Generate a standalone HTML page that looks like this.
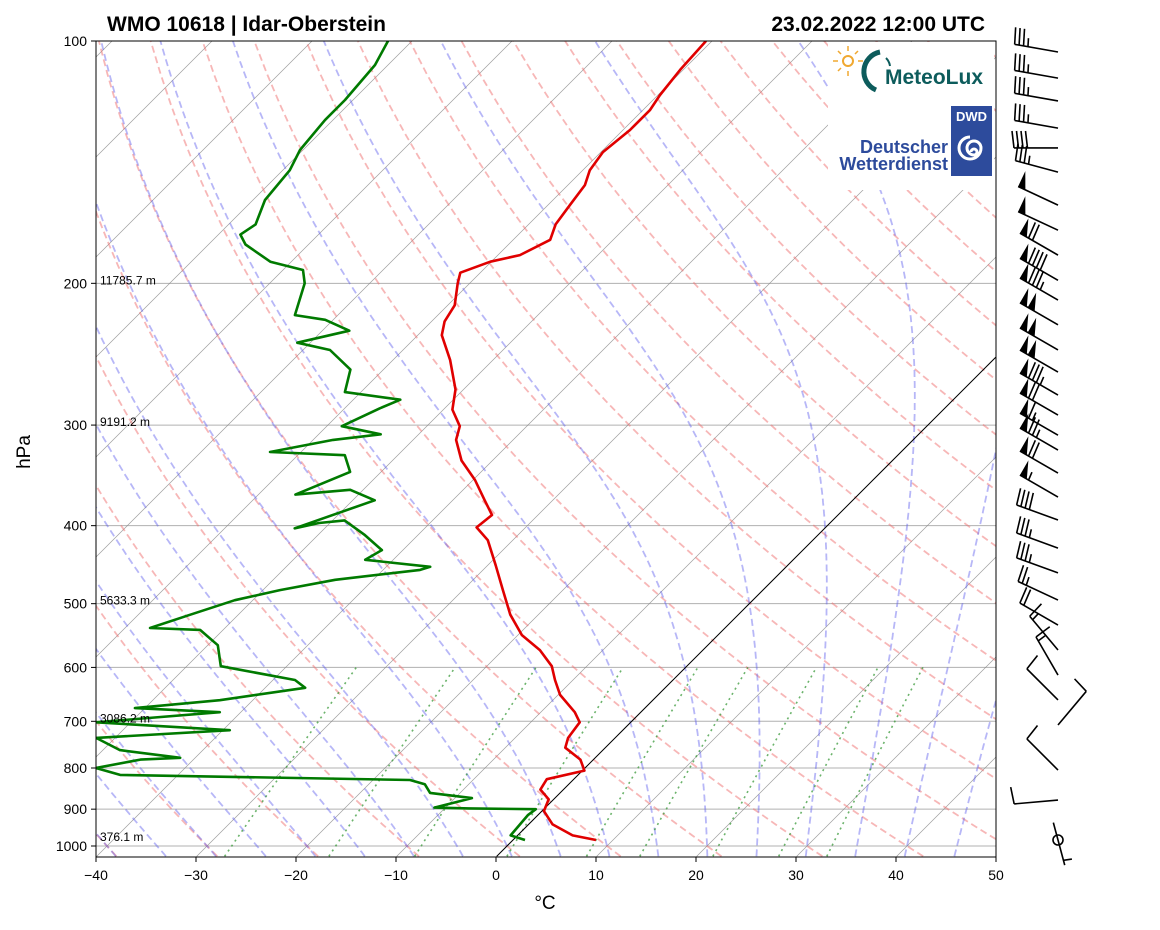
<!DOCTYPE html>
<html><head><meta charset="utf-8"><style>
body{margin:0;background:#fff;}
svg text{font-family:"Liberation Sans","DejaVu Sans",sans-serif;}
</style></head><body>
<svg id="chart" width="1160" height="925" viewBox="0 0 1160 925" xmlns="http://www.w3.org/2000/svg">
<defs><clipPath id="plotclip"><rect x="96" y="41" width="900" height="816"/></clipPath></defs>
<rect x="0" y="0" width="1160" height="925" fill="#fff"/>
<g id="bg" clip-path="url(#plotclip)"></g>
<g id="profiles" clip-path="url(#plotclip)"></g>
<g id="logos">
 <rect x="828" y="42" width="166" height="148" fill="#fff"/>
 <g>
  <circle cx="848" cy="61" r="5" fill="none" stroke="#f0a830" stroke-width="2"/>
  <path d="M848 51v-5M848 71v5M838 61h-5M858 61h5M841 54l-3-3M855 54l3-3M841 68l-3 3" stroke="#f0a830" stroke-width="1.5"/>
  <path d="M876 90 A20 20 0 0 1 880 52" fill="none" stroke="#0d5c5c" stroke-width="5"/>
  <path d="M886 58 A14 14 0 0 1 890 66" fill="none" stroke="#0d5c5c" stroke-width="2"/>
  <text x="885" y="84" font-size="21" font-weight="bold" fill="#0d5c5c">MeteoLux</text>
 </g>
 <g>
  <rect x="951" y="106" width="41" height="70" fill="#2d4b9c"/>
  <text x="971.5" y="121" font-size="13" font-weight="bold" fill="#fff" text-anchor="middle">DWD</text>
  <path d="M971 152 a3 3 0 1 1 3 3 a7 7 0 1 1 7 -7 a11 11 0 1 1 -11 -11" fill="none" stroke="#fff" stroke-width="3"/>
  <text x="948" y="153" font-size="18" font-weight="bold" fill="#2d4b9c" text-anchor="end">Deutscher</text>
  <text x="948" y="170" font-size="18" font-weight="bold" fill="#2d4b9c" text-anchor="end">Wetterdienst</text>
 </g>
</g>
<g id="axes"></g>
<g id="barbs"></g>
<text x="107" y="31" font-size="21" font-weight="bold">WMO 10618 | Idar-Oberstein</text>
<text x="985" y="31" font-size="21" font-weight="bold" text-anchor="end">23.02.2022 12:00 UTC</text>
<text x="545" y="909" font-size="19" text-anchor="middle">°C</text>
<text x="30" y="452" font-size="19" text-anchor="middle" transform="rotate(-90 30 452)">hPa</text>
</svg>
<script>
const tempP=[983,970,940,905,875,851,826,806,781,755,734,702,682,649,622,598,571,547,516,481,448,417,402,388,372,351,332,313,301,287,271,249,232,223,213,200,194,188,184.5,176.6,169,160,151,144.7,137.4,129,121.8,116.7,108.6,100];
const tempT=[8.3,5.5,2.4,0.2,-0.5,-2.3,-2.7,0.2,-1.3,-4,-4.7,-5.1,-6.6,-9.8,-11.8,-13.5,-16.3,-19.6,-22.8,-26,-29.2,-32.5,-34.9,-34.6,-36.8,-39.8,-43.1,-45.7,-46.7,-49.1,-50.8,-54.3,-57.6,-58.7,-59.3,-61.2,-62,-60.1,-57.8,-56.3,-57.3,-57.8,-58.3,-59.3,-59.8,-59.3,-59.3,-59.8,-60.3,-60.6];
const dewP=[983,970,915,900,898,896,872,859,838,828,816,800,781,777,760,734,718,702,682,674,659,636,622,598,563,539,536,516,495,481,467,454,450,441,429,411,394,397,403,372,361,366,343,327,324,313,308,301,286,279,273,256,242,237,229,222,219,200,192.5,188,179,174,169,157.6,144.7,136.6,125.3,118.4,107.1,100];
const dewT=[1.2,-0.7,-1,-0.8,-7.6,-11.1,-8.3,-13,-14.4,-16.3,-45.8,-48.9,-45.3,-41.5,-48.3,-51.9,-39.3,-53.5,-42.1,-51,-43.3,-36,-37.8,-46.6,-49,-52.3,-57.5,-54.8,-51.8,-48.3,-43.8,-36.3,-35.6,-42.8,-42.1,-45.3,-48.8,-51.1,-53,-47.8,-51.3,-56.3,-53.1,-55.3,-63.1,-58,-53.8,-58.5,-56.5,-55.3,-61.6,-63.3,-67.3,-71.3,-67.3,-70.8,-74.3,-76.5,-78,-82.1,-86.3,-87.8,-87.3,-88.8,-89.3,-90.3,-90.8,-90.8,-91.3,-92.4];
const windP=[103.2,111.2,118.7,128.3,135.8,145.5,159.9,171.8,184.5,198.3,209.8,225.2,242,257.8,275.3,291.5,308.8,322.2,344.1,368.6,393.6,426.5,457.9,494.9,531.6,570.8,613.3,658.6,707.5,804.7,876.9,983];
const windSpd=[35,35,35,35,40,35,50,50,70,90,85,100,100,100,85,70,65,75,70,55,40,35,35,25,20,15,15,10,10,10,10,5];
const windDir=[280,280,280,280,270,285,295,295,300,300,300,300,300,300,300,300,300,300,300,300,290,290,290,295,300,320,330,315,40,315,265,165];
const pTicks=[100,200,300,400,500,600,700,800,900,1000];
const tTicks=[-40,-30,-20,-10,0,10,20,30,40,50];
const heightP=[200,300,500,700,983];
const heightLbl=["11785.7 m","9191.2 m","5633.3 m","3086.2 m","376.1 m"];
const dryT0=[-40,-30,-20,-10,0,10,20,30,40,50,60,70,80,90,100,110,120,130,140,150,160,170,180,190,200];
const moistT0=[-40,-35,-30,-25,-20,-15,-10,-5,0,5,10,15,20,25,30,35,40,45];
const mixW=[0.0004,0.001,0.002,0.004,0.007,0.01,0.016,0.024,0.032];

const NS="http://www.w3.org/2000/svg";
function yOf(p){return 41+805*Math.log10(p/100);}
function xOf(T,p){return 496+T*10+(857-yOf(p));}
function mk(tag,attrs,parent){const e=document.createElementNS(NS,tag);for(const k in attrs)e.setAttribute(k,attrs[k]);parent.appendChild(e);return e;}
const bg=document.getElementById('bg'),prof=document.getElementById('profiles'),ax=document.getElementById('axes'),bb=document.getElementById('barbs');
function pathFrom(pts){return pts.map((q,i)=>(i?'L':'M')+q[0].toFixed(1)+' '+q[1].toFixed(1)).join('');}
const pGrid=[];for(let p=1030;p>=100;p-=10)pGrid.push(p);

pTicks.forEach(p=>{const l=mk('line',{x1:96,x2:996,y1:yOf(p),y2:yOf(p),stroke:'#b0b0b0','stroke-width':1},bg);

});
for(let T=-200;T<=50;T+=10){const l=mk('line',{x1:xOf(T,1030),y1:yOf(1030),x2:xOf(T,100),y2:yOf(100),stroke:'#888',"stroke-width":0.7,opacity:0.8},bg);

}
dryT0.forEach(t0=>{const th=t0+273.15;const pts=pGrid.map(p=>[xOf(th*Math.pow(p/1000,0.2857)-273.15,p),yOf(p)]);
const e=mk('path',{d:pathFrom(pts),fill:'none',stroke:'#f07070','stroke-width':1.8,'stroke-dasharray':'7 4',opacity:0.5},bg);

});
function es(Tc){return 6.112*Math.exp(17.67*Tc/(Tc+243.5));}
function dTdp(T,p){const Tc=T-273.15;const e=es(Tc);const rs=0.622*e/(p-e);const Rd=287.04,Lv=2.501e6,Cp=1005.7;
return (1/p)*(Rd*T+Lv*rs)/(Cp+Lv*Lv*rs*0.622/(Rd*T*T));}
moistT0.forEach(t0=>{let T=t0+273.15;const up=[[xOf(t0,1000),yOf(1000)]];
for(let p=1000;p>100;p-=2){T-=dTdp(T,p)*2;up.push([xOf(T-273.15,p-2),yOf(p-2)]);}
T=t0+273.15;const dn=[];for(let p=1000;p<1030;p+=2){T+=dTdp(T,p)*2;dn.push([xOf(T-273.15,p+2),yOf(p+2)]);}
const pts=dn.reverse().concat(up);
const e=mk('path',{d:pathFrom(pts),fill:'none',stroke:'#6060ee','stroke-width':1.8,'stroke-dasharray':'7 4',opacity:0.45},bg);

});
mixW.forEach(w=>{const pts=[];for(let p=1030;p>=600;p-=10){const e=w*p/(0.622+w);const l=Math.log(e/6.112);const Td=243.5*l/(17.67-l);pts.push([xOf(Td,p),yOf(p)]);}
const e=mk('path',{d:pathFrom(pts),fill:'none',stroke:'#3a9a3a','stroke-width':1.6,'stroke-dasharray':'2 4',opacity:0.75},bg);

});
const z=mk('line',{x1:xOf(0,1030),y1:yOf(1030),x2:xOf(0,100),y2:yOf(100),stroke:'#000','stroke-width':1},bg);


const tl=mk('path',{d:pathFrom(tempP.map((p,i)=>[xOf(tempT[i],p),yOf(p)])),fill:'none',stroke:'#e00000','stroke-width':2.6,'stroke-linejoin':'round'},prof);


const dl=mk('path',{d:pathFrom(dewP.map((p,i)=>[xOf(dewT[i],p),yOf(p)])),fill:'none',stroke:'#007a00','stroke-width':2.6,'stroke-linejoin':'round'},prof);


const fr=mk('rect',{x:96,y:41,width:900,height:816,fill:'none',stroke:'#000','stroke-width':1},ax);


pTicks.forEach(p=>{mk('line',{x1:91,x2:96,y1:yOf(p),y2:yOf(p),stroke:'#000'},ax);
const t=mk('text',{x:87,y:yOf(p)+5,'font-size':14,'text-anchor':'end'},ax);t.textContent=p;

});
tTicks.forEach(T=>{const x=496+T*10;mk('line',{x1:x,x2:x,y1:857,y2:862,stroke:'#000'},ax);
const t=mk('text',{x:x,y:880,'font-size':14,'text-anchor':'middle'},ax);t.textContent=(T<0?'\u2212'+(-T):T);

});
heightP.forEach((p,i)=>{const t=mk('text',{x:100,y:yOf(p)+1,'font-size':12},ax);t.textContent=heightLbl[i];

});
windP.forEach((p,i)=>{const bx=1058,by=yOf(p),L=44,d=windDir[i]*Math.PI/180;
const ux=Math.sin(d),uy=-Math.cos(d);const g=mk('g',{},bb);


let s=windSpd[i];
if(s<=5){mk('circle',{cx:bx,cy:by,r:5,fill:'none',stroke:'#000','stroke-width':1.6},g);}
if(s<3)return;
const sx=(s<=5)?bx-ux*18:bx, sy=(s<=5)?by-uy*18:by;
const tx=sx+ux*L,ty=sy+uy*L;mk('line',{x1:sx,y1:sy,x2:tx,y2:ty,stroke:'#000','stroke-width':1.6},g);
const px=-uy,py=ux;
let vx=-px,vy=-py; if(vy>0||(Math.abs(vy)<0.01&&vx>0)){vx=px;vy=py;}
const bl=17,ax2=vx*bl+ux*2,ay2=vy*bl+uy*2;
let pos=0;s=Math.round(s/5)*5;
while(s>=50){const x0=tx-ux*pos,y0=ty-uy*pos,x1=tx-ux*(pos+8),y1=ty-uy*(pos+8);
mk('polygon',{points:`${x0},${y0} ${x0+vx*bl},${y0+vy*bl} ${x1},${y1}`,fill:'#000'},g);pos+=9;s-=50;}
if(pos>0)pos+=1;
while(s>=10){const x0=tx-ux*pos,y0=ty-uy*pos;mk('line',{x1:x0,y1:y0,x2:x0+ax2,y2:y0+ay2,stroke:'#000','stroke-width':1.6},g);pos+=4.5;s-=10;}
if(s>=5){if(pos===0)pos=5;const x0=tx-ux*pos,y0=ty-uy*pos;mk('line',{x1:x0,y1:y0,x2:x0+ax2/2,y2:y0+ay2/2,stroke:'#000','stroke-width':1.6},g);}
});
</script>
</body></html>
